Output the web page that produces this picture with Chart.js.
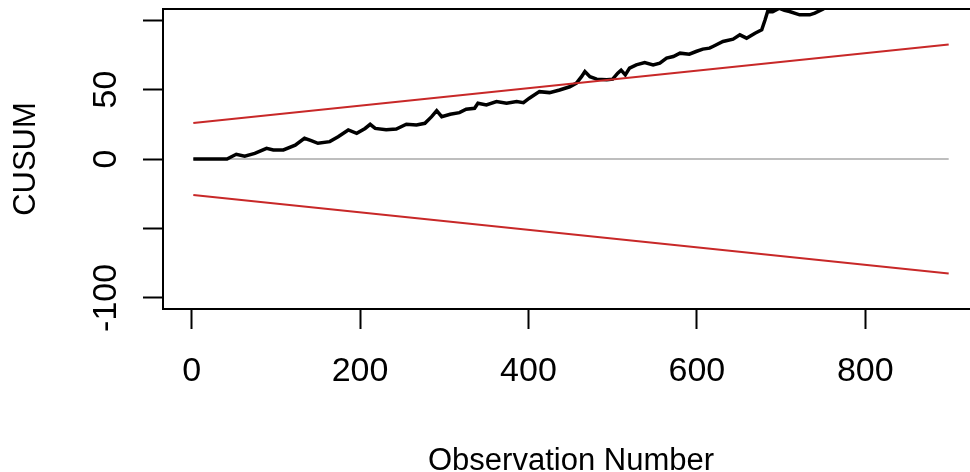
<!DOCTYPE html>
<html>
<head>
<meta charset="utf-8">
<script src="https://cdn.jsdelivr.net/npm/chart.js@4"></script>
<style>
  html, body { margin: 0; padding: 0; background: #fff; overflow: hidden; }
  #wrap { width: 1000px; height: 482px; }
</style>
</head>
<body>
<div id="wrap"><canvas id="cusumChart" width="1000" height="482"></canvas></div>
<script>
// observation numbers and CUSUM values
const obsNumber = [2, 42, 53, 63, 75, 89, 97, 109, 123, 134, 142, 150, 164, 174, 186, 196, 206, 212, 218, 231,
    243, 255, 267, 277, 285, 291, 297, 307, 318, 326, 336, 340, 350, 362, 374, 386, 394, 401, 413, 425,
    437, 449, 457, 463, 467, 473, 481, 493, 500, 506, 510, 515, 520, 528, 538, 548, 556, 564, 572, 580,
    591, 599, 607, 615, 619, 631, 643, 651, 659, 669, 677, 681, 684, 690, 698, 704, 710, 722, 734, 740,
    750, 760, 790, 830, 870, 899];
const cusum = [0, 0, 3.4, 2, 4, 7.7, 6.5, 6.5, 10, 14.9, 13.2, 11.3, 12.5, 16, 20.9, 18.5, 22, 25, 22, 21,
    21.6, 25, 24.5, 25.7, 30.5, 34.8, 30.5, 32.2, 33.4, 35.8, 36.5, 40.1, 38.9, 41.3, 40.1, 41.3, 40.6, 43.8, 48.5, 47.8,
    49.7, 52, 54.6, 59.3, 63, 59.3, 57.5, 57, 57.5, 61.8, 64, 60.6, 65.4, 67.8, 69.4, 67.8, 69, 72.6, 73.8, 76.2,
    75.5, 77.4, 79.1, 79.8, 81, 84.6, 86.3, 89.4, 87, 90.6, 93, 100.2, 106.2, 106, 108.5, 107, 106.2, 103.8, 103.8, 105,
    108, 112, 118, 124, 130, 135];

// boundaries (straight lines) and the zero reference
const boundX = [2, 899];
const upperBound = [26, 82.5];
const lowerBound = [-26, -82.5];
const zeroLine = [0, 0];

// tick positions and which y labels R kept
const xTicks = [0, 200, 400, 600, 800];
const yTicks = [-100, -50, 0, 50, 100];
const yTicksShown = [-100, 0, 50];

const toPoints = (xs, ys) => xs.map((x, i) => ({x: x, y: ys[i]}));

const FONT = "'Liberation Sans', Arial, sans-serif";

const boxPlugin = {
    id: 'box',
    afterDatasetsDraw(chart) {
        const {ctx, chartArea} = chart;
        ctx.save();
        ctx.strokeStyle = '#000';
        ctx.lineWidth = 2;
        ctx.strokeRect(chartArea.left, chartArea.top, chartArea.right - chartArea.left, chartArea.bottom - chartArea.top);
        ctx.restore();
    }
};

const cusumChart = new Chart(
    document.getElementById('cusumChart'),
    {
        type: 'line',
        data: {
            datasets: [
                {
                    label: 'upper',
                    data: toPoints(boundX, upperBound),
                    borderColor: '#c82828',
                    borderWidth: 2,
                    order: 1,
                },
                {
                    label: 'lower',
                    data: toPoints(boundX, lowerBound),
                    borderColor: '#c82828',
                    borderWidth: 2,
                    order: 1,
                },
                {
                    label: 'CUSUM',
                    data: toPoints(obsNumber, cusum),
                    borderColor: '#000',
                    borderWidth: 3.5,
                    order: 2,
                },
                {
                    label: 'zero',
                    data: toPoints(boundX, zeroLine),
                    borderColor: '#bebebe',
                    borderWidth: 2,
                    order: 3,
                },
            ]
        },
        options: {
            responsive: false,
            animation: false,
            clip: 0,
            layout: {
                padding: {top: 9, right: 21, left: 0, bottom: 0}
            },
            elements: {
                point: {radius: 0},
                line: {tension: 0, fill: false}
            },
            plugins: {
                legend: {display: false},
                tooltip: {enabled: false}
            },
            scales: {
                x: {
                    type: 'linear',
                    min: -34,
                    max: 935,
                    afterBuildTicks: (scale) => { scale.ticks = xTicks.map(v => ({value: v})); },
                    afterFit: (scale) => {
                        scale.height = 173;
                        scale.paddingLeft = 0;
                        scale.paddingRight = 0;
                    },
                    border: {display: false},
                    grid: {
                        drawOnChartArea: false,
                        tickLength: 20,
                        tickColor: '#000',
                        tickWidth: 2
                    },
                    ticks: {
                        autoSkip: false,
                        maxRotation: 0,
                        padding: 22,
                        color: '#000',
                        font: {family: FONT, size: 34}
                    },
                    title: {
                        display: true,
                        text: 'Observation Number',
                        color: '#000',
                        font: {family: FONT, size: 31},
                        padding: {top: 0, bottom: 2}
                    }
                },
                y: {
                    type: 'linear',
                    min: -108,
                    max: 108,
                    afterBuildTicks: (scale) => { scale.ticks = yTicks.map(v => ({value: v})); },
                    afterFit: (scale) => {
                        scale.width = 163;
                        scale.paddingTop = 0;
                        scale.paddingBottom = 0;
                    },
                    border: {display: false},
                    grid: {
                        drawOnChartArea: false,
                        tickLength: 20,
                        tickColor: '#000',
                        tickWidth: 2
                    },
                    ticks: {
                        autoSkip: false,
                        minRotation: 90,
                        maxRotation: 90,
                        crossAlign: 'center',
                        padding: 2,
                        color: '#000',
                        font: {family: FONT, size: 34},
                        callback: (value) => yTicksShown.includes(value) ? String(value) : ''
                    },
                    title: {
                        display: true,
                        text: 'CUSUM',
                        color: '#000',
                        font: {family: FONT, size: 31},
                        padding: {top: 8, bottom: 0}
                    }
                }
            }
        },
        plugins: [boxPlugin]
    }
);
</script>
</body>
</html>
